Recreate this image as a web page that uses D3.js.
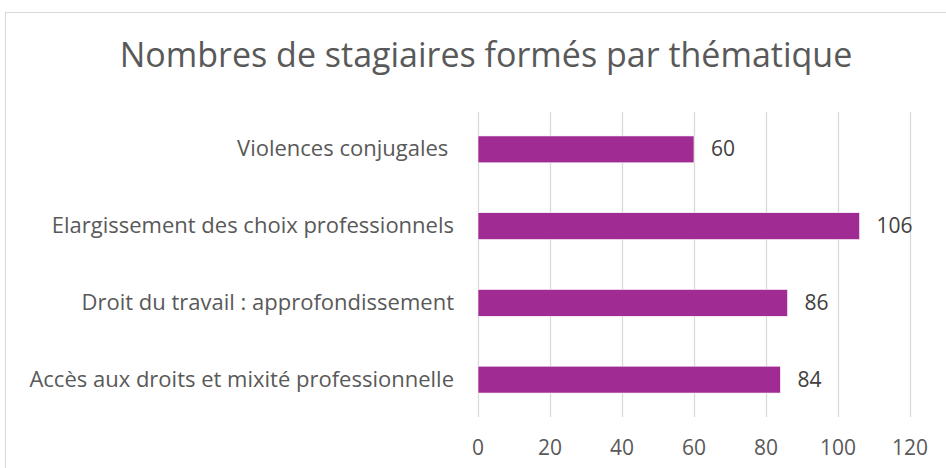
<!DOCTYPE html>
<html><head><meta charset="utf-8">
<script src="https://cdn.jsdelivr.net/npm/d3@7"></script>
<style>body{margin:0;background:#fff;}svg{display:block;font-family:"Open Sans",sans-serif;}</style>
</head><body>
<svg id="c" width="946" height="468"></svg>
<script>
const title = "Nombres de stagiaires formés par thématique";
const categories = ["Violences conjugales ", "Elargissement des choix professionnels", "Droit du travail : approfondissement", "Accès aux droits et mixité professionnelle"];
const values = [60, 106, 86, 84];
const ticks = [0, 20, 40, 60, 80, 100, 120];

const svg = d3.select("#c");
svg.append("rect").attr("x", 5.5).attr("y", 12.5).attr("width", 960).attr("height", 480)
  .attr("fill", "#fff").attr("stroke", "#d9d9d9");
svg.append("text").attr("x", 486).attr("y", 67).attr("text-anchor", "middle")
  .attr("font-size", 34).attr("fill", "#595959").text(title);

const x = d3.scaleLinear().domain([0, 120]).range([478, 910]);
const y = d3.scaleBand().domain(categories).range([111, 418]).paddingInner(0.65).paddingOuter(0.325);

const grid = svg.append("g").attr("transform", "translate(0,417)")
  .call(d3.axisBottom(x).tickValues(ticks).tickSize(-305).tickFormat(""));
grid.select(".domain").remove();
grid.selectAll("line").attr("stroke", "#d9d9d9").attr("stroke-width", 1.3);

svg.append("g").selectAll("text").data(ticks).join("text")
  .attr("x", d => x(d)).attr("y", 455).attr("text-anchor", "middle")
  .attr("font-size", 21).attr("fill", "#595959").text(d => d);

svg.append("g").selectAll("rect").data(values).join("rect")
  .attr("x", x(0)).attr("y", (d, i) => y(categories[i]))
  .attr("width", d => x(d) - x(0)).attr("height", y.bandwidth())
  .attr("fill", "#A02B93").attr("stroke", "#fff").attr("stroke-width", 0.6);

svg.append("g").selectAll("text").data(categories).join("text")
  .attr("x", 454).attr("y", d => y(d) + y.bandwidth() / 2 + 7).attr("text-anchor", "end")
  .attr("xml:space", "preserve").style("white-space", "pre")
  .attr("font-size", 22).attr("fill", "#595959").text(d => d);

svg.append("g").selectAll("text").data(values).join("text")
  .attr("x", d => x(d) + 17).attr("y", (d, i) => y(categories[i]) + y.bandwidth() / 2 + 7)
  .attr("font-size", 21).attr("fill", "#404040").text(d => d);
</script>
</body></html>
